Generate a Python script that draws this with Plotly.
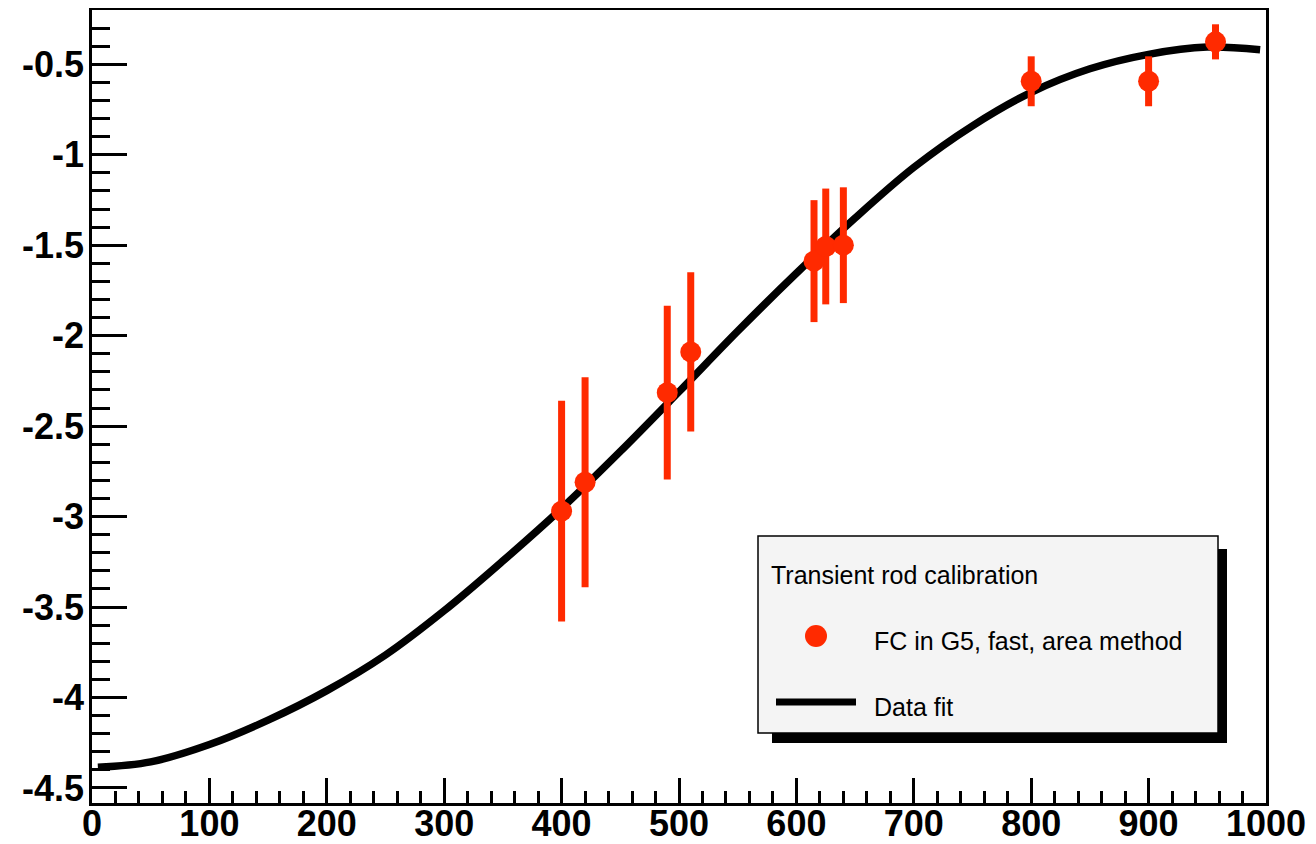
"""Transient rod calibration: measured points with error bars and the data fit."""

import plotly.graph_objects as go

POINT_X = [400, 420, 490, 510, 615, 625, 640, 800, 900, 957]
POINT_Y = [-2.97, -2.81, -2.315, -2.09, -1.588, -1.507, -1.50, -0.594, -0.594, -0.376]
POINT_ERR = [0.61, 0.58, 0.48, 0.44, 0.337, 0.32, 0.32, 0.138, 0.138, 0.097]

# fit curve
FIT_X = [5, 50, 100, 150, 200, 250, 300, 350, 400, 450, 500,
         550, 600, 650, 700, 750, 800, 850, 900, 950, 995]
FIT_Y = [-4.386, -4.356, -4.26, -4.125, -3.962, -3.765, -3.52, -3.245, -2.955, -2.64, -2.31,
         -1.975, -1.655, -1.35, -1.07, -0.84, -0.655, -0.525, -0.445, -0.405, -0.42]

X_TICKS = [0, 100, 200, 300, 400, 500, 600, 700, 800, 900, 1000]
X_TICK_TEXT = ["0", "100", "200", "300", "400", "500", "600", "700", "800", "900", "1000"]
Y_TICKS = [-4.5, -4, -3.5, -3, -2.5, -2, -1.5, -1, -0.5]
Y_TICK_TEXT = ["-4.5", "-4", "-3.5", "-3", "-2.5", "-2", "-1.5", "-1", "-0.5"]

LEGEND_TITLE = "Transient rod calibration"
POINTS_LABEL = "FC in G5, fast, area method"
FIT_LABEL = "Data fit"

RED = "#FF2A00"
PAGE_PAD = 8  # browser default body margin
W, H = 1316 - PAGE_PAD, 844 - PAGE_PAD
# plot frame in page pixels: x 92..1266, y 10..803
FRAME_L, FRAME_R, FRAME_T, FRAME_B = 92, 1266, 10, 803


def px_x(px):
    return (px - FRAME_L) / (FRAME_R - FRAME_L)


def px_y(py):
    return (FRAME_B - py) / (FRAME_B - FRAME_T)


fig = go.Figure()
fig.add_trace(go.Scatter(x=FIT_X, y=FIT_Y, mode="lines", line=dict(color="black", width=7.5, shape="spline"),
                         name=FIT_LABEL, showlegend=False))
fig.add_trace(go.Scatter(x=POINT_X, y=POINT_Y, mode="markers", name=POINTS_LABEL, showlegend=False,
                         marker=dict(color=RED, size=21),
                         error_y=dict(type="data", array=POINT_ERR, color=RED, thickness=7, width=0)))

axis_font = dict(family="Liberation Sans, Arial, sans-serif", size=36, color="black", weight="bold")
fig.update_xaxes(range=[0, 1000], tickmode="array", tickvals=X_TICKS, ticktext=X_TICK_TEXT,
                 ticks="inside", ticklen=25, tickwidth=2.5, tickcolor="black",
                 minor=dict(dtick=20, tick0=0, ticks="inside", ticklen=12, tickwidth=2.5, tickcolor="black"),
                 showline=True, linewidth=2.5, linecolor="black", mirror=True, automargin=False,
                 showgrid=False, zeroline=False, tickfont=axis_font, ticklabelstandoff=-13)
fig.update_yaxes(range=[-4.583, -0.2], tickmode="array", tickvals=Y_TICKS, ticktext=Y_TICK_TEXT,
                 ticks="inside", ticklen=35, tickwidth=2.5, tickcolor="black",
                 minor=dict(dtick=0.1, tick0=-4.5, ticks="inside", ticklen=18, tickwidth=2.5, tickcolor="black"),
                 showline=True, linewidth=2.5, linecolor="black", mirror=True, automargin=False,
                 showgrid=False, zeroline=False, tickfont=axis_font, ticklabelstandoff=-2)

# ROOT-style legend box with drop shadow
shapes = [
    dict(type="rect", xref="paper", yref="paper", x0=px_x(772), x1=px_x(1227), y0=px_y(743), y1=px_y(549),
         fillcolor="black", line=dict(width=0)),
    dict(type="rect", xref="paper", yref="paper", x0=px_x(758), x1=px_x(1218), y0=px_y(733), y1=px_y(536),
         fillcolor="#F4F4F4", line=dict(color="black", width=1.5)),
    dict(type="circle", xref="paper", yref="paper", x0=px_x(805), x1=px_x(827), y0=px_y(647), y1=px_y(625),
         fillcolor=RED, line=dict(width=0)),
    dict(type="line", xref="paper", yref="paper", x0=px_x(776), x1=px_x(856), y0=px_y(702), y1=px_y(702),
         line=dict(color="black", width=7)),
]
legend_font = dict(family="Liberation Sans, Arial, sans-serif", size=25, color="black")
annotations = [
    dict(text=LEGEND_TITLE, x=px_x(769), y=px_y(575)),
    dict(text=POINTS_LABEL, x=px_x(872), y=px_y(641)),
    dict(text=FIT_LABEL, x=px_x(872), y=px_y(707)),
]
for a in annotations:
    a.update(xref="paper", yref="paper", xanchor="left", yanchor="middle", showarrow=False, font=legend_font)

fig.update_layout(width=W, height=H,
                  margin=dict(l=FRAME_L - PAGE_PAD, r=1316 - FRAME_R, t=FRAME_T - PAGE_PAD, b=844 - FRAME_B),
                  paper_bgcolor="white", plot_bgcolor="white", showlegend=False,
                  shapes=shapes, annotations=annotations)
fig.write_html("out.html")
